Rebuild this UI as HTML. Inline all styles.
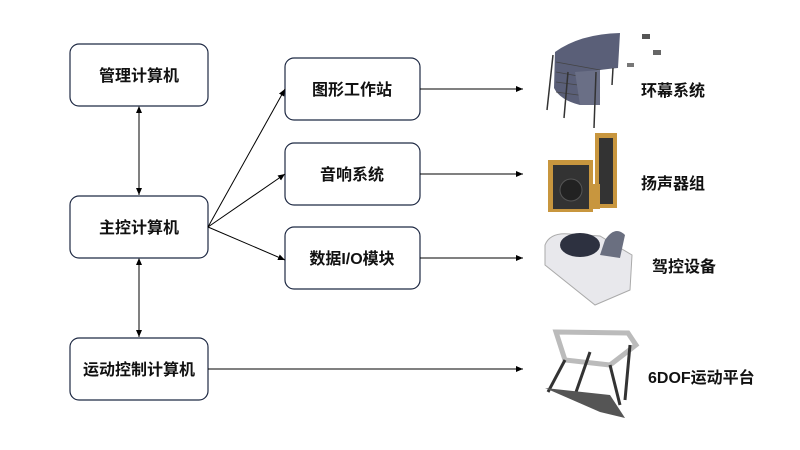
<!DOCTYPE html>
<html><head><meta charset="utf-8"><style>
body{margin:0;background:#fff}
svg{display:block;font-family:"Liberation Sans","Noto Sans CJK SC",sans-serif}
</style></head><body>
<svg width="800" height="450" viewBox="0 0 800 450">
<defs>
<marker id="a" markerWidth="8" markerHeight="8" refX="7" refY="4" orient="auto" markerUnits="userSpaceOnUse"><path d="M0,1 L7,4 L0,7 Z" fill="#000"/></marker>
<marker id="s" markerWidth="8" markerHeight="8" refX="1" refY="4" orient="auto" markerUnits="userSpaceOnUse"><path d="M7,1 L0,4 L7,7 Z" fill="#000"/></marker>
</defs>
<g fill="#fff" stroke="#1f2a44" stroke-width="1.2">
<rect x="70" y="44" width="138" height="62" rx="9"/>
<rect x="70" y="196" width="138" height="62" rx="9"/>
<rect x="70" y="338" width="138" height="62" rx="9"/>
<rect x="285" y="58" width="135" height="62" rx="9"/>
<rect x="285" y="143" width="135" height="62" rx="9"/>
<rect x="285" y="227" width="135" height="62" rx="9"/>
</g>
<g font-size="16" font-weight="bold" text-anchor="middle" fill="#111">
<text x="139" y="81">管理计算机</text>
<text x="139" y="233">主控计算机</text>
<text x="139" y="375">运动控制计算机</text>
<text x="352" y="95">图形工作站</text>
<text x="352" y="180">音响系统</text>
<text x="352" y="264">数据I/O模块</text>
</g>
<g stroke="#000" stroke-width="1" fill="none">
<line x1="139" y1="107" x2="139" y2="195" marker-start="url(#s)" marker-end="url(#a)"/>
<line x1="139" y1="259" x2="139" y2="337" marker-start="url(#s)" marker-end="url(#a)"/>
<line x1="208" y1="227" x2="285" y2="89" marker-end="url(#a)"/>
<line x1="208" y1="227" x2="285" y2="174" marker-end="url(#a)"/>
<line x1="208" y1="227" x2="285" y2="260" marker-end="url(#a)"/>
<line x1="420" y1="89" x2="523" y2="89" marker-end="url(#a)"/>
<line x1="420" y1="174" x2="523" y2="174" marker-end="url(#a)"/>
<line x1="420" y1="258" x2="523" y2="258" marker-end="url(#a)"/>
<line x1="208" y1="369" x2="523" y2="369" marker-end="url(#a)"/>
</g>
<!-- curved screen -->
<path d="M555,52 Q580,34 620,33 L618,68 Q595,70 580,74 L580,105 Q560,100 554,88 Z" fill="#5a5f78"/>
<g stroke="#444" stroke-width="0.8"><line x1="556" y1="62" x2="600" y2="70"/><line x1="556" y1="72" x2="600" y2="80"/><line x1="556" y1="82" x2="600" y2="88"/><line x1="556" y1="92" x2="600" y2="98"/></g>
<path d="M575,72 L600,70 L600,105 L580,105 Z" fill="#6a6f86"/>
<g stroke="#333" stroke-width="1.5"><line x1="553" y1="55" x2="547" y2="110"/><line x1="568" y1="72" x2="564" y2="118"/><line x1="596" y1="72" x2="594" y2="128"/><line x1="613" y1="68" x2="612" y2="85"/></g>
<rect x="642" y="34" width="8" height="5" fill="#555"/><rect x="653" y="50" width="8" height="5" fill="#666"/><rect x="627" y="63" width="7" height="4" fill="#777"/>
<!-- speakers -->
<rect x="595" y="133" width="22" height="75" fill="#c8963e"/><rect x="599" y="138" width="14" height="66" fill="#333"/>
<rect x="548" y="160" width="45" height="52" fill="#c8963e"/><rect x="553" y="165" width="36" height="44" fill="#333"/><circle cx="571" cy="190" r="11" fill="#222" stroke="#555"/>
<rect x="590" y="184" width="10" height="25" fill="#c8963e"/>
<!-- driving seat -->
<path d="M545,245 Q550,232 570,234 L600,236 L632,255 L630,290 L595,305 L545,265 Z" fill="#e8e8ec" stroke="#aaa"/>
<ellipse cx="580" cy="245" rx="20" ry="12" fill="#2d3140"/><path d="M605,240 Q615,225 625,235 L620,258 L600,255 Z" fill="#6a6f80"/>
<!-- 6dof -->
<path d="M556,332 L628,333 L636,345 L610,365 L565,360 Z" fill="none" stroke="#bbb" stroke-width="5"/>
<g stroke="#333" stroke-width="3"><line x1="565" y1="360" x2="548" y2="392"/><line x1="590" y1="352" x2="575" y2="395"/><line x1="610" y1="365" x2="620" y2="405"/><line x1="630" y1="345" x2="625" y2="400"/></g>
<path d="M545,388 L600,412 L625,418 L610,395 Z" fill="#555"/>
<g font-size="16" font-weight="bold" fill="#111">
<text x="641" y="96">环幕系统</text>
<text x="641" y="189">扬声器组</text>
<text x="652" y="272">驾控设备</text>
<text x="648" y="383">6DOF运动平台</text>
</g>
</svg>
</body></html>
